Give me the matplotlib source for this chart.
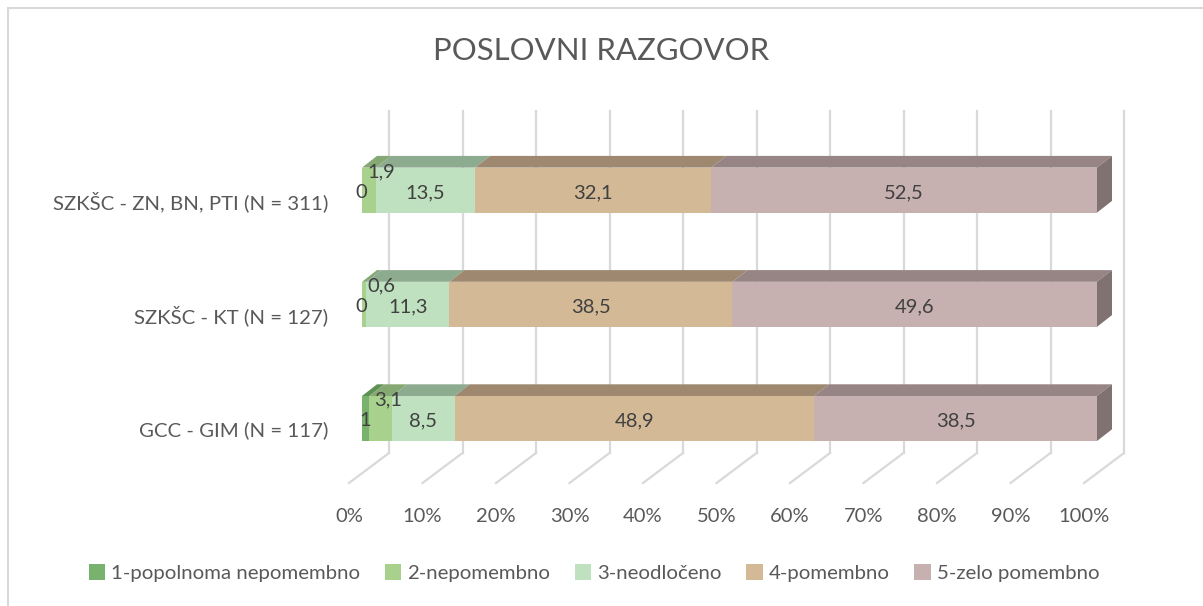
import matplotlib.pyplot as plt
from matplotlib.patches import Polygon, Patch, Rectangle

plt.rcParams['font.family'] = ['Lato', 'DejaVu Sans']

# data (bottom to top, as drawn)
categories = ['GCC - GIM (N = 117)', 'SZKŠC - KT (N = 127)', 'SZKŠC - ZN, BN, PTI (N = 311)']
series_names = ['1-popolnoma nepomembno', '2-nepomembno', '3-neodločeno', '4-pomembno', '5-zelo pomembno']
s1 = [1.0, 0.0, 0.0]
s2 = [3.1, 0.6, 1.9]
s3 = [8.5, 11.3, 13.5]
s4 = [48.9, 38.5, 32.1]
s5 = [38.5, 49.6, 52.5]
tick_values = [0, 10, 20, 30, 40, 50, 60, 70, 80, 90, 100]

series = [s1, s2, s3, s4, s5]
front_colors = ['#79b26c', '#a9d18e', '#bfe1c0', '#d3b996', '#c6b0b0']
top_colors = ['#5f9154', '#86a873', '#8dab8f', '#9e8870', '#978485']
side_color = '#807270'
text_color = '#595959'
label_color = '#404040'

W, H = 1203, 606
fig = plt.figure(figsize=(W / 100, H / 100), dpi=100)

# axes placed so that bar fronts: 0% -> x=362px, 100% -> 1097px; rows at y=418.5/304.3/190 px
xlim = (-6, 108)
ylim = (-0.8, 2.8)
px_x = 7.35
px_y = 114.2
left_px = 362 + xlim[0] * px_x
right_px = 362 + xlim[1] * px_x
bottom_px = 418.5 - ylim[0] * px_y
top_px = 418.5 - ylim[1] * px_y
ax = fig.add_axes([left_px / W, 1 - bottom_px / H, (right_px - left_px) / W, (bottom_px - top_px) / H])
ax.set_xlim(*xlim)
ax.set_ylim(*ylim)
ax.axis('off')

# 3D offsets (pixels -> data units)
bar_dx, bar_dy = 15 / px_x, 11.7 / px_y
floor_fx, floor_fy = -13 / px_x, -64.5 / px_y
wall_bx, wall_by = 27 / px_x, -34.5 / px_y
wall_top = 307.5 / px_y
half_h = 22.5 / px_y

# gridlines on floor and back wall
for t in tick_values:
    ax.plot([t + floor_fx, t + wall_bx], [floor_fy, wall_by], color='#d9d9d9', lw=1.6, zorder=1)
    ax.plot([t + wall_bx, t + wall_bx], [wall_by, wall_top], color='#d9d9d9', lw=1.6, zorder=1)
    ax.text(t + floor_fx, floor_fy - 34 / px_y, f'{t}%', ha='center', va='center',
            fontsize=14.5, color=text_color)

# bars
ypos = list(range(len(categories)))
lefts = [0.0] * len(categories)
for k, vals in enumerate(series):
    ax.barh(ypos, vals, left=lefts, height=2 * half_h, color=front_colors[k], zorder=3)
    for i, v in enumerate(vals):
        l, r = lefts[i], lefts[i] + v
        y0, y1 = i - half_h, i + half_h
        if v > 0:
            ax.add_patch(Polygon([(l, y1), (r, y1), (r + bar_dx, y1 + bar_dy), (l + bar_dx, y1 + bar_dy)],
                                 closed=True, facecolor=top_colors[k], edgecolor='none', zorder=3))
        if k == len(series) - 1:
            ax.add_patch(Polygon([(r, y0), (r, y1), (r + bar_dx, y1 + bar_dy), (r + bar_dx, y0 + bar_dy)],
                                 closed=True, facecolor=side_color, edgecolor='none', zorder=3))
        # data labels
        lab = f'{v:g}'.replace('.', ',')
        if k == 0:
            ax.text(l + v / 2 - 0.1, i - 0.02, lab, ha='center', va='center', fontsize=14.5,
                    color=label_color, zorder=5)
        elif k == 1:
            ax.text(l + 2.6, i + 0.16, lab, ha='center', va='center', fontsize=14.5,
                    color=label_color, zorder=5)
        else:
            ax.text(l + v / 2, i - 0.025, lab, ha='center', va='center', fontsize=14.5,
                    color=label_color, zorder=5)
    lefts = [a + b for a, b in zip(lefts, vals)]

# category labels
for i, c in enumerate(categories):
    ax.text((328 - 362) / px_x, i - 0.1, c, ha='right', va='center',
            fontsize=14.7, color=text_color)

fig.text(0.5, 1 - 51 / H, 'POSLOVNI RAZGOVOR', ha='center', va='center', fontsize=22.4, color=text_color)

handles = [Patch(facecolor=c, edgecolor='none') for c in front_colors]
fig.legend(handles, series_names, loc='center', bbox_to_anchor=(594 / W, 1 - 573 / H), ncol=5,
           frameon=False, fontsize=14.7, labelcolor=text_color, handlelength=0.8, handleheight=0.8,
           handletextpad=0.3, columnspacing=1.2)

# chart border
fig.add_artist(Rectangle((7.5 / W, -0.5), 2, 1.5 - 7.5 / H, transform=fig.transFigure,
                         fill=False, edgecolor='#d9d9d9', lw=1.5))

fig.savefig('out.png', dpi=100)
